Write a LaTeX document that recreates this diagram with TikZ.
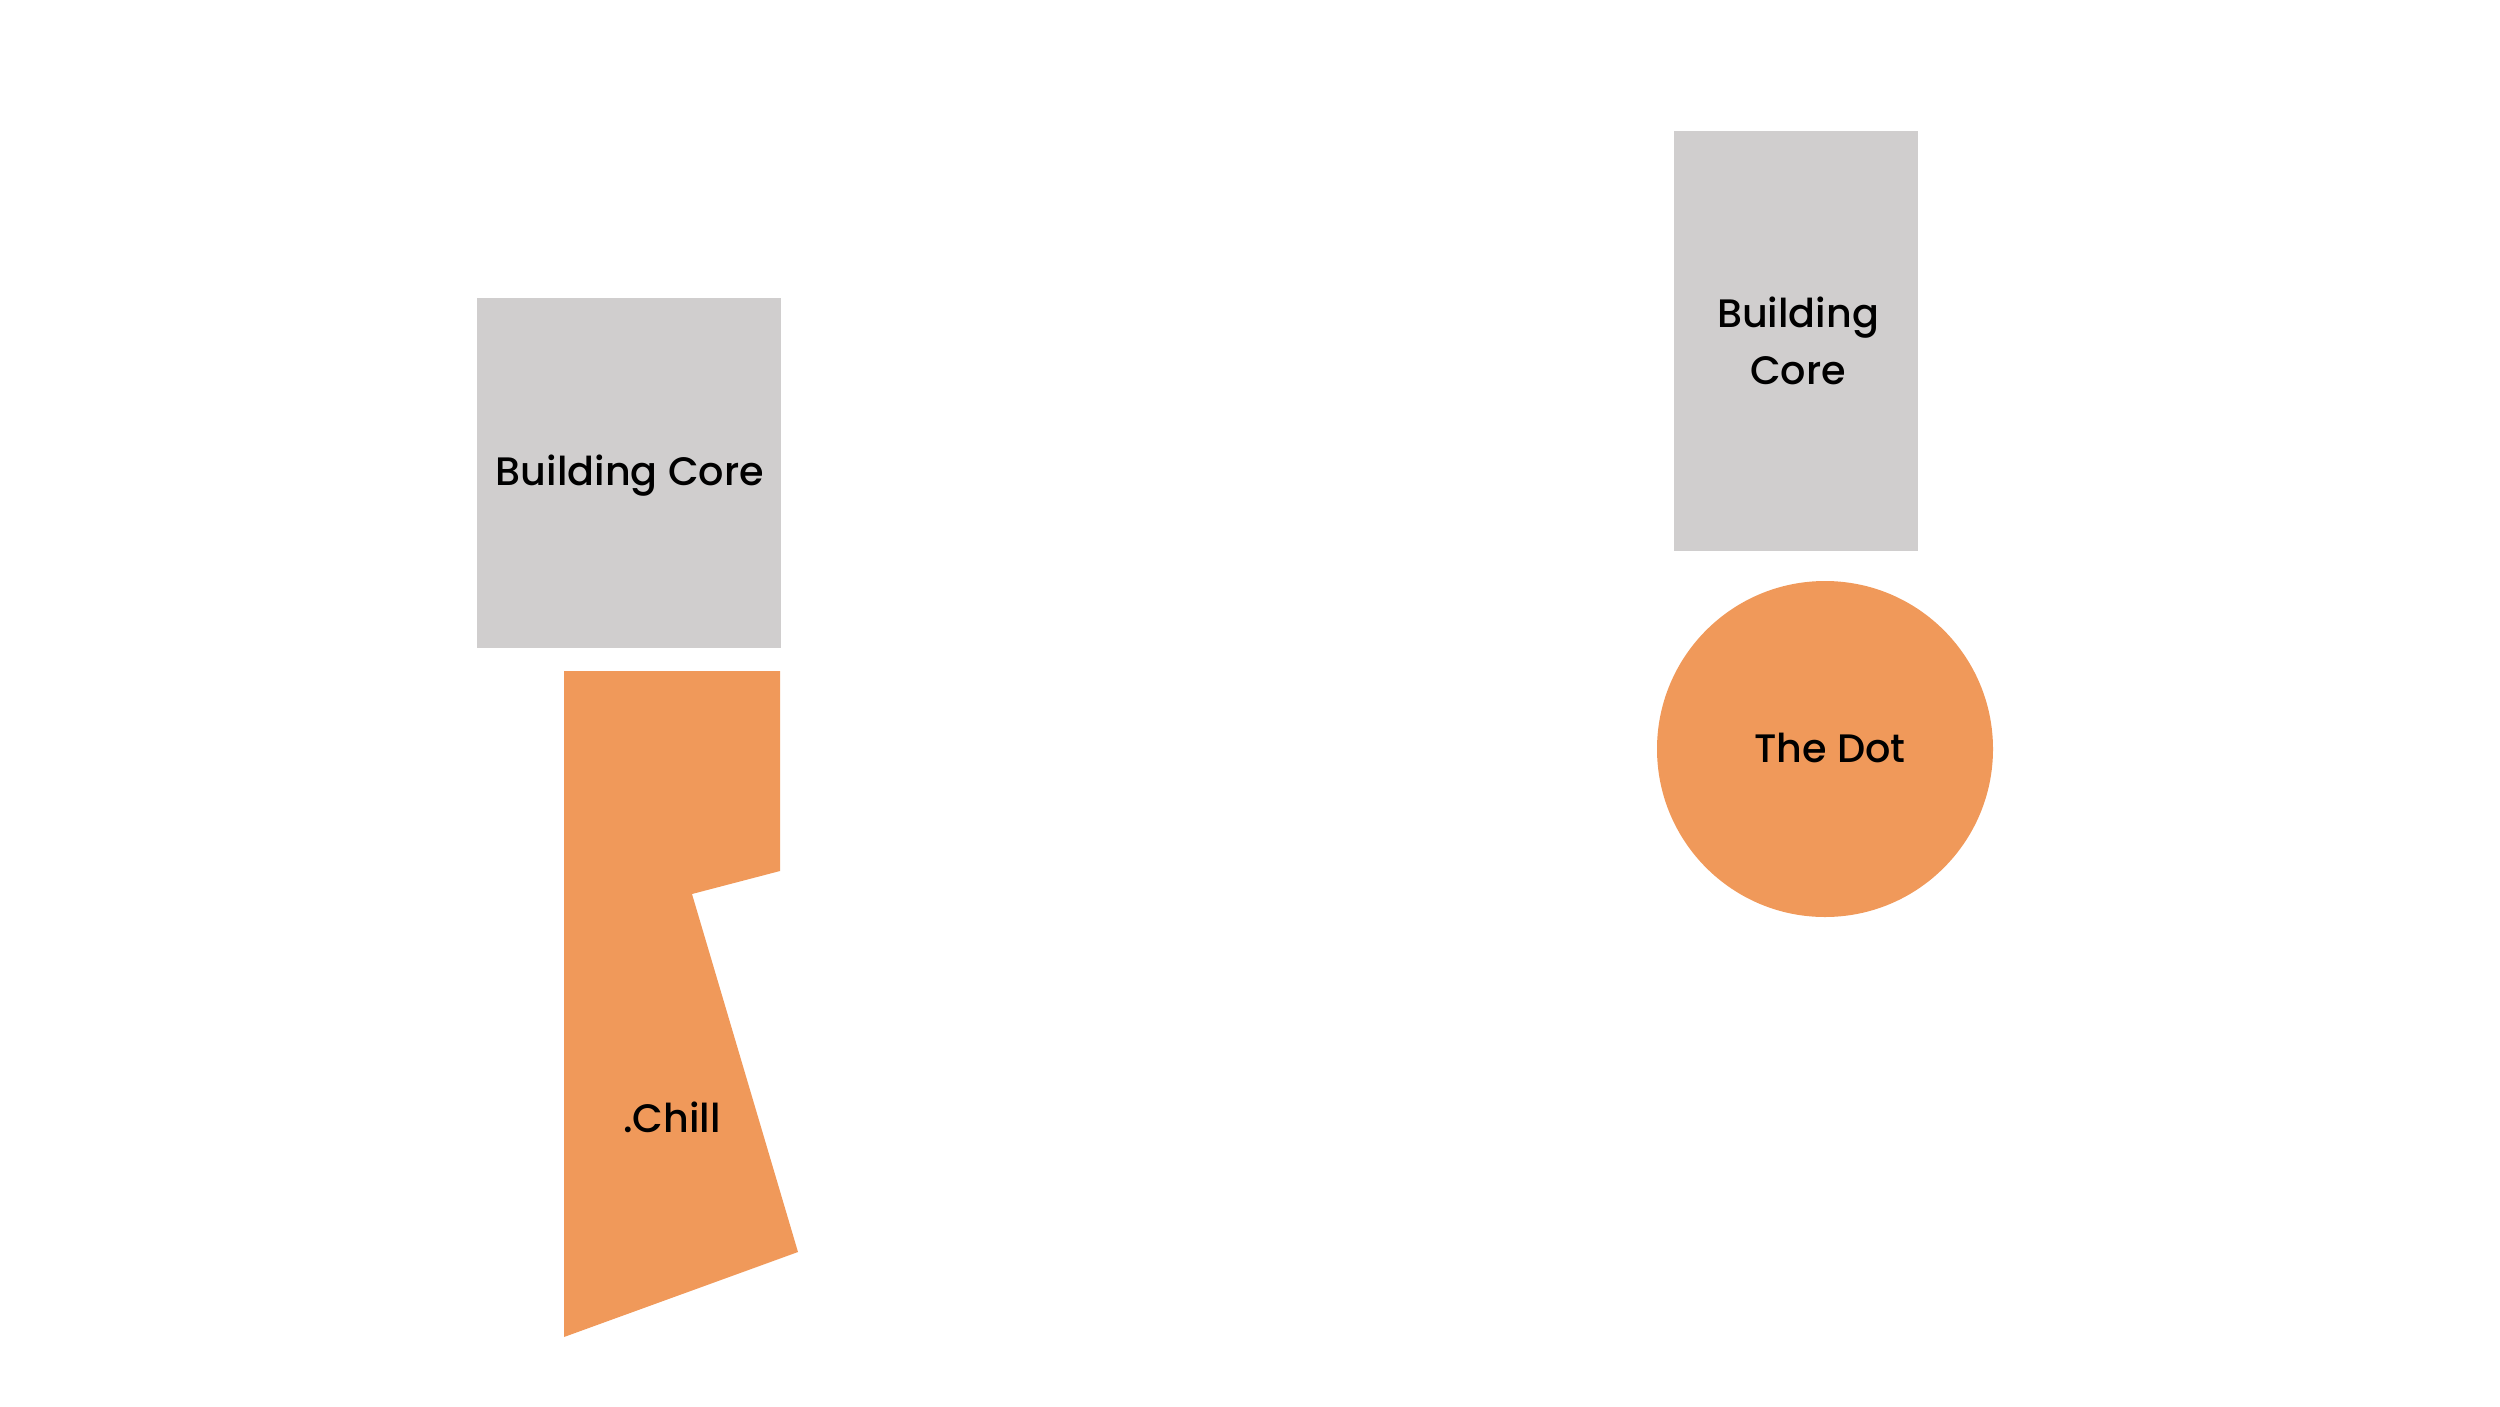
\documentclass[tikz,border=0pt]{standalone}
\usepackage{fontspec}
\IfFontExistsTF{Poppins Medium}{\setmainfont{Poppins Medium}}{\setmainfont{Poppins}}
\definecolor{coregray}{HTML}{D0CECE}
\definecolor{zoneorange}{HTML}{F0995A}
\tikzset{
  core/.style={fill=coregray, draw=none},
  zone/.style={fill=zoneorange, draw=none},
  lbl/.style={text=black, font=\fontsize{11.3}{16}\selectfont, align=center, inner sep=0pt}
}
\begin{document}
\begin{tikzpicture}[x=0.01cm, y=-0.01cm]
\useasboundingbox (0,0) rectangle (2500,1406);
% left building core
\path[core] (477,298) rectangle (781,648);
\node[lbl] (lcore) at (630,476) {Building Core};
% .Chill zone
\path[zone] (564,671) -- (780,671) -- (780,871) -- (692,894) -- (798,1252) -- (564,1337) -- cycle;
\node[lbl] (chill) at (672,1117) {.Chill};
% right building core
\path[core] (1674,131) rectangle (1918,551);
\node[lbl] (rcore) at (1798,341) {Building\\Core};
% The Dot
\path[zone] (1825,749) circle (168);
\node[lbl] (dot) at (1830,748) {The Dot};
\end{tikzpicture}
\end{document}
